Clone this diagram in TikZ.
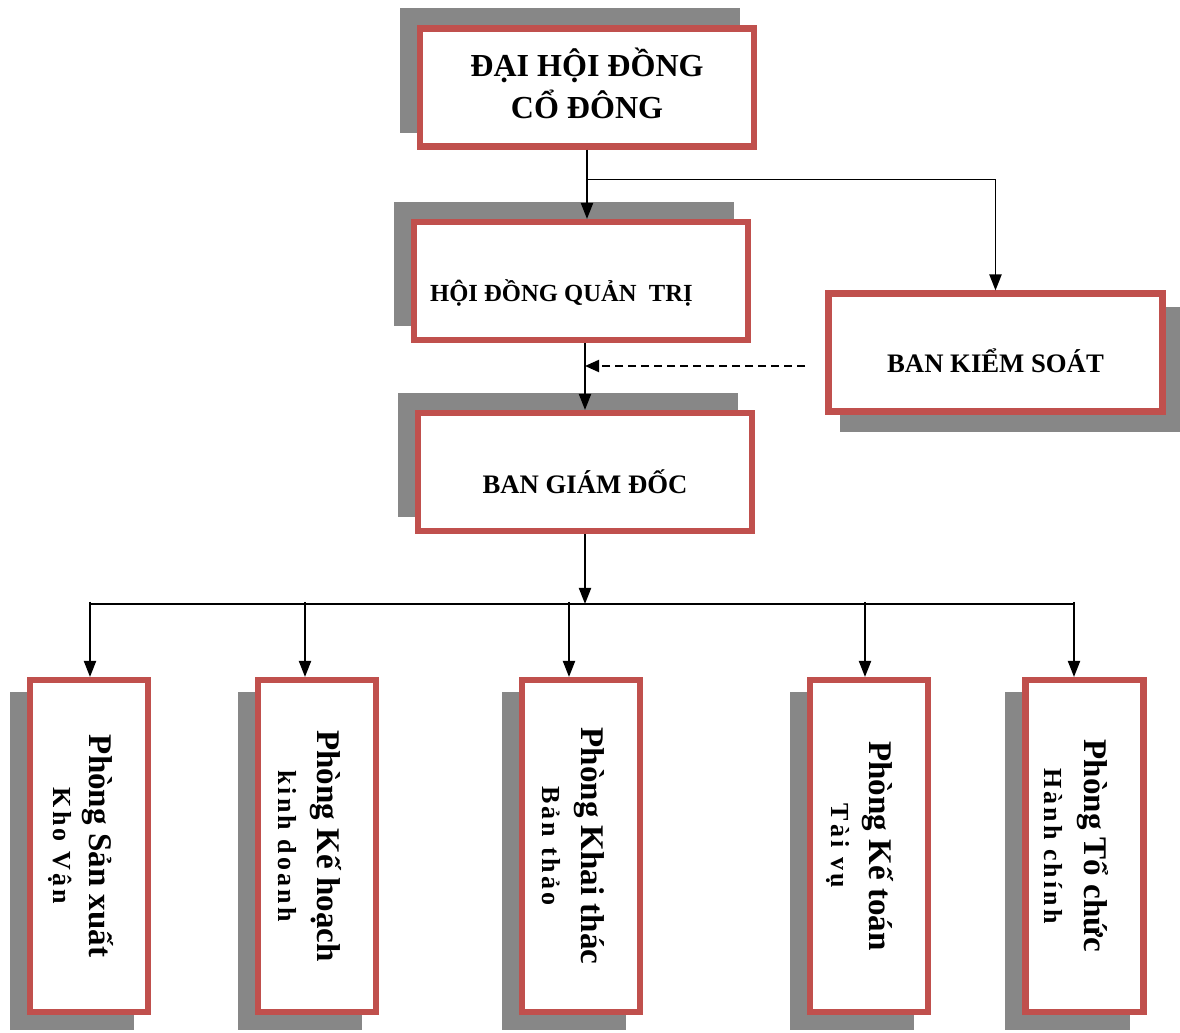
\documentclass[tikz,border=0pt]{standalone}
\usepackage{fontspec}
\setmainfont{Liberation Serif}
\newfontfamily\widefont{Liberation Serif}[LetterSpace=12]
\usetikzlibrary{arrows.meta,shadows}

\definecolor{boxred}{HTML}{C0504D}
\definecolor{shadowgray}{HTML}{878787}

\tikzset{
  box/.style={draw=boxred,line width=4.3pt,fill=white,align=center,inner sep=0pt},
  widebox/.style={box,minimum width=8.35cm,minimum height=2.95cm},
  tallbox/.style={box,minimum width=2.95cm,minimum height=8.3cm},
  shade/.style={fill=shadowgray,draw=shadowgray,line width=4.3pt,opacity=1},
  shadowul/.style={drop shadow={shadow xshift=-0.425cm,shadow yshift=0.425cm,shade}},
  shadowdr/.style={drop shadow={shadow xshift=0.375cm,shadow yshift=-0.425cm,shade}},
  shadowdl/.style={drop shadow={shadow xshift=-0.425cm,shadow yshift=-0.375cm,shade}},
  boxtext/.style={inner sep=0pt,font=\bfseries\fontsize{19}{23}\selectfont},
  deptname/.style={rotate=-90,anchor=base,inner sep=0pt,font=\bfseries\fontsize{23.5}{27}\selectfont},
  deptsub/.style={rotate=-90,anchor=base,inner sep=0pt,font=\widefont\bfseries\fontsize{18.5}{22}\selectfont},
  wire/.style={line width=1.4pt},
  link/.style={wire,-{Triangle[length=0.4cm,width=0.3cm]}},
  dashlink/.style={wire,dash pattern=on 0.2cm off 0.125cm,-{Triangle[length=0.35cm,width=0.3cm]}}
}

\begin{document}
\begin{tikzpicture}

\useasboundingbox (0,0) rectangle (29.5,25.8);

% upper boxes
\node[widebox,shadowul] (dhcd) at (14.675,23.6125) {};
\node[boxtext,align=center,font=\bfseries\fontsize{22.8}{29.8}\selectfont] (dhcdtext) at ([yshift=0.1cm]dhcd.center) {ĐẠI HỘI ĐỒNG\\CỔ ĐÔNG};
\node[widebox,shadowul] (hdqt) at (14.525,18.775) {};
\node[boxtext,font=\bfseries\fontsize{17.5}{21}\selectfont] (hdqttext) at ([xshift=-0.49cm,yshift=-0.3cm]hdqt.center) {HỘI ĐỒNG QUẢN\ \ TRỊ};
\node[widebox,shadowul] (bgd) at (14.625,14.0) {};
\node[boxtext] (bgdtext) at ([yshift=-0.25cm]bgd.center) {BAN GIÁM ĐỐC};
\node[widebox,shadowdr] (bks) at (24.8875,16.9875) {};
\node[boxtext] (bkstext) at ([yshift=-0.2cm]bks.center) {BAN KIỂM SOÁT};

% departments
\node[tallbox,shadowdl] (p1) at (2.225,4.65) {};
\node[tallbox,shadowdl] (p2) at (7.925,4.65) {};
\node[tallbox,shadowdl] (p3) at (14.525,4.65) {};
\node[tallbox,shadowdl] (p4) at (21.725,4.65) {};
\node[tallbox,shadowdl] (p5) at (27.1125,4.65) {};

\node[deptname] (p1a) at (p1.center) {Phòng Sản xuất};
\node[deptsub] (p1b) at ([xshift=-0.9cm]p1.center) {Kho Vận};
\node[deptname] (p2a) at (p2.center) {Phòng Kế hoạch};
\node[deptsub] (p2b) at ([xshift=-0.975cm]p2.center) {kinh doanh};
\node[deptname] (p3a) at (p3.center) {Phòng Khai thác};
\node[deptsub] (p3b) at ([xshift=-0.975cm]p3.center) {Bản thảo};
\node[deptname] (p4a) at (p4.center) {Phòng Kế toán};
\node[deptsub] (p4b) at ([xshift=-0.95cm]p4.center) {Tài vụ};
\node[deptname] (p5a) at (p5.center) {Phòng Tổ chức};
\node[deptsub] (p5b) at ([xshift=-1cm]p5.center) {Hành chính};

% connectors
\coordinate (split) at ([yshift=-0.75cm]dhcd.south);
\draw[link] (dhcd.south) -- (dhcd.south |- hdqt.north);
\draw[link] (split) -| (bks.north);
\draw[link] (bgd.north |- hdqt.south) -- (bgd.north);

\coordinate (ctrl) at (20.125,16.65);
\draw[dashlink] (ctrl) -- (ctrl -| bgd.north);

\coordinate (busl) at (2.25,10.7);
\coordinate (busr) at (26.85,10.7);
\draw[link] (bgd.south) -- (bgd.south |- busl);
\draw[wire] (busl) -- (busr);

\foreach \x/\n in {2.25/p1,7.625/p2,14.225/p3,21.625/p4,26.85/p5}
  \draw[link] (\x,10.75) -- (\x,10.75 |- \n.north);

\end{tikzpicture}
\end{document}
